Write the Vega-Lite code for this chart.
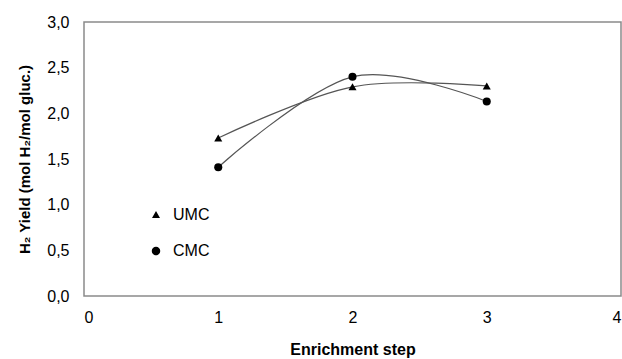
{
  "$schema": "https://vega.github.io/schema/vega-lite/v6.json",
  "autosize": {"type": "none"},
  "padding": {"left": 84, "top": 22, "right": 1, "bottom": 63},
  "width": 537,
  "height": 274,
  "background": "white",
  "config": {
    "view": {"stroke": "#8a8a8a", "strokeWidth": 1.5},
    "font": "Liberation Sans",
    "axis": {"grid": false, "domain": false, "ticks": false, "labelColor": "#000", "titleColor": "#000", "labelFont": "Liberation Sans", "titleFont": "Liberation Sans"}
  },
  "data": {"values": [
    {"step": 1, "yield": 1.73, "series": "UMC"},
    {"step": 2, "yield": 2.29, "series": "UMC"},
    {"step": 3, "yield": 2.30, "series": "UMC"},
    {"step": 1, "yield": 1.41, "series": "CMC"},
    {"step": 2, "yield": 2.40, "series": "CMC"},
    {"step": 3, "yield": 2.13, "series": "CMC"}
  ]},
  "encoding": {
    "x": {"field": "step", "type": "quantitative", "scale": {"domain": [0, 4], "nice": false},
      "axis": {"title": "Enrichment step", "values": [0, 1, 2, 3, 4], "format": "d", "labelFontSize": 16, "labelPadding": 13, "titleFontSize": 16, "titleFontWeight": "bold", "titlePadding": 16}},
    "y": {"field": "yield", "type": "quantitative", "scale": {"domain": [0, 3], "nice": false},
      "axis": {"title": "H₂ Yield (mol H₂/mol gluc.)", "values": [0, 0.5, 1, 1.5, 2, 2.5, 3], "labelExpr": "replace(format(datum.value, '.1f'), '.', ',')", "labelFontSize": 16, "labelPadding": 15, "titleFontSize": 15, "titleFontWeight": "bold", "titlePadding": 14}}
  },
  "resolve": {"scale": {"shape": "independent"}, "legend": {"shape": "independent"}},
  "layer": [
    {
      "mark": {"type": "line", "interpolate": "cardinal", "tension": 0, "color": "#555555", "strokeWidth": 1.2},
      "encoding": {"detail": {"field": "series"}}
    },
    {
      "mark": {"type": "point", "filled": true, "opacity": 1, "color": "#000000", "size": 65},
      "encoding": {
        "shape": {"field": "series", "type": "nominal",
          "scale": {"domain": ["UMC", "CMC"], "range": ["triangle-up", "circle"]},
          "legend": null}
      }
    },
    {
      "mark": {"type": "point", "filled": false, "opacity": 0, "fill": "#000000", "stroke": "#333333", "strokeWidth": 1, "size": 65},
      "encoding": {
        "shape": {"field": "series", "type": "nominal",
          "scale": {"domain": ["UMC", "CMC"], "range": ["M-3,0H3M0,-0.8L0.8,0.6L-0.8,0.6Z", "M-3,0H3M0.85,0A0.85,0.85,0,1,1,-0.85,0A0.85,0.85,0,1,1,0.85,0Z"]},
          "legend": {
            "title": null, "orient": "none", "legendX": 64, "legendY": 185,
            "labelFontSize": 16, "labelColor": "#000", "labelFont": "Liberation Sans",
            "symbolSize": 100, "labelOffset": 9, "rowPadding": 20, "symbolOpacity": 1,
            "symbolFillColor": "#000", "symbolStrokeColor": "#333", "symbolStrokeWidth": 1
          }}
      }
    }
  ]
}
